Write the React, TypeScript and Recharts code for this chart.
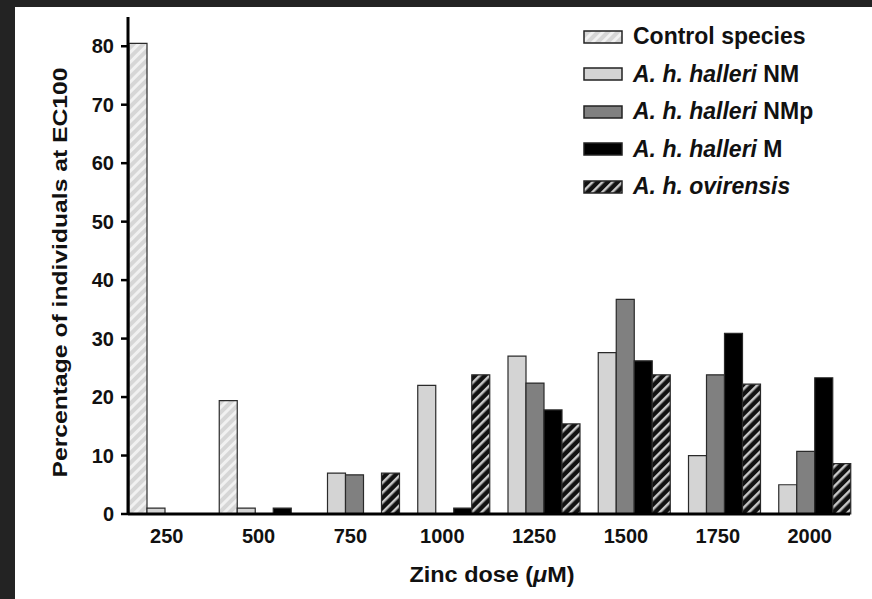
import { BarChart, Bar, XAxis, YAxis, Legend, Label } from "recharts";

const FONT = '"Liberation Sans", Arial, Helvetica, sans-serif';

const DOSES = ["250", "500", "750", "1000", "1250", "1500", "1750", "2000"];
const Y_TICKS = [0, 10, 20, 30, 40, 50, 60, 70, 80];

// percentage of individuals at EC100, per zinc dose
const CONTROL = [80.5, 19.4, 0, 0, 0, 0, 0, 0];
const HALLERI_NM = [1, 1, 7, 22, 27, 27.6, 10, 5];
const HALLERI_NMP = [0, 0, 6.7, 0, 22.4, 36.7, 23.8, 10.7];
const HALLERI_M = [0, 1, 0, 1, 17.8, 26.2, 30.9, 23.3];
const OVIRENSIS = [0, 0, 7, 23.8, 15.4, 23.8, 22.2, 8.6];

const SERIES = [
  { key: "control", italic: "", rest: "Control species", fill: "url(#hatchLight)" },
  { key: "nm", italic: "A. h. halleri", rest: " NM", fill: "#d4d4d4" },
  { key: "nmp", italic: "A. h. halleri", rest: " NMp", fill: "#808080" },
  { key: "m", italic: "A. h. halleri", rest: " M", fill: "#000000" },
  { key: "ovi", italic: "A. h. ovirensis", rest: "", fill: "url(#hatchDark)" },
];

const data = DOSES.map((dose, i) => ({
  dose,
  control: CONTROL[i],
  nm: HALLERI_NM[i],
  nmp: HALLERI_NMP[i],
  m: HALLERI_M[i],
  ovi: OVIRENSIS[i],
}));

function Patterns() {
  return (
    <svg width={0} height={0} style={{ position: "absolute" }}>
      <defs>
        <pattern id="hatchLight" patternUnits="userSpaceOnUse" width={7} height={7} patternTransform="rotate(45)">
          <rect width={7} height={7} fill="#d6d6d6" />
          <rect width={3} height={7} fill="#f1f1f1" />
        </pattern>
        <pattern id="hatchDark" patternUnits="userSpaceOnUse" width={7} height={7} patternTransform="rotate(45)">
          <rect width={7} height={7} fill="#111111" />
          <rect width={2.5} height={7} fill="#c8c8c8" />
        </pattern>
      </defs>
    </svg>
  );
}

// tick labels in the original sit on a slightly wider spacing than the bar groups
function DoseTick({ x, y, payload, index }: any) {
  const shift = (index - 4) * 1.6;
  return (
    <text
      x={x + shift}
      y={y}
      dy="0.71em"
      textAnchor="middle"
      style={{ fill: "#111", fontSize: 20, fontWeight: "bold", fontFamily: FONT }}
    >
      {payload.value}
    </text>
  );
}

function LegendBox() {
  return (
    <div style={{ display: "flex", flexDirection: "column" }}>
      {SERIES.map((s) => (
        <div key={s.key} style={{ height: 37.5, display: "flex", alignItems: "center" }}>
          <svg width={40} height={14}>
            <rect x={1} y={1} width={38} height={12} fill={s.fill} stroke="#222" strokeWidth={1.5} />
          </svg>
          <span style={{ marginLeft: 10, fontSize: 23, fontWeight: "bold", fontFamily: FONT, color: "#111", whiteSpace: "nowrap" }}>
            {s.italic && <i>{s.italic}</i>}
            {s.rest}
          </span>
        </div>
      ))}
    </div>
  );
}

export default function App() {
  return (
    <div style={{ position: "fixed", left: 0, top: 0, width: 872, height: 599, background: "#232323", overflow: "hidden" }}>
      <Patterns />
      <div style={{ position: "absolute", left: 15, top: 7, width: 857, height: 592, background: "#ffffff" }}>
        <BarChart
          width={857}
          height={592}
          data={data}
          margin={{ top: 10, right: 22, bottom: 45, left: 53 }}
          barCategoryGap={1}
          barGap={0}
        >
          <XAxis
            dataKey="dose"
            axisLine={{ stroke: "#000", strokeWidth: 3 }}
            tickLine={false}
            tickSize={0}
            tickMargin={15}
            height={40}
            tick={<DoseTick />}
          >
            <Label
              content={({ viewBox }: any) => (
                <text
                  x={viewBox.x + viewBox.width / 2 + 3}
                  y={567}
                  textAnchor="middle"
                  dominantBaseline="central"
                  textLength={165}
                  lengthAdjust="spacingAndGlyphs"
                  style={{ fontSize: 22, fontWeight: "bold", fontFamily: FONT, fill: "#111" }}
                >
                  Zinc dose (<tspan fontStyle="italic">μ</tspan>M)
                </text>
              )}
            />
          </XAxis>
          <YAxis
            domain={[0, 85]}
            ticks={Y_TICKS}
            width={60}
            axisLine={{ stroke: "#000", strokeWidth: 3 }}
            tickLine={{ stroke: "#000", strokeWidth: 2.5 }}
            tickSize={7}
            tickMargin={7}
            tick={{ fill: "#111", fontSize: 20, fontWeight: "bold", fontFamily: FONT }}
          >
            <Label
              content={({ viewBox }: any) => {
                const cy = viewBox.y + viewBox.height / 2 + 7;
                return (
                  <text
                    x={44}
                    y={cy}
                    transform={`rotate(-90, 44, ${cy})`}
                    textAnchor="middle"
                    dominantBaseline="central"
                    textLength={410}
                    lengthAdjust="spacingAndGlyphs"
                    style={{ fontSize: 21, fontWeight: "bold", fontFamily: FONT, fill: "#111" }}
                  >
                    Percentage of individuals at EC100
                  </text>
                );
              }}
            />
          </YAxis>
          <Legend
            layout="vertical"
            align="center"
            verticalAlign="middle"
            wrapperStyle={{ top: 11, left: 568, width: "auto" }}
            content={() => <LegendBox />}
          />
          {SERIES.map((s) => (
            <Bar
              key={s.key}
              dataKey={s.key}
              fill={s.fill}
              stroke="#2a2a2a"
              strokeWidth={1.2}
              isAnimationActive={false}
            />
          ))}
        </BarChart>
      </div>
    </div>
  );
}
